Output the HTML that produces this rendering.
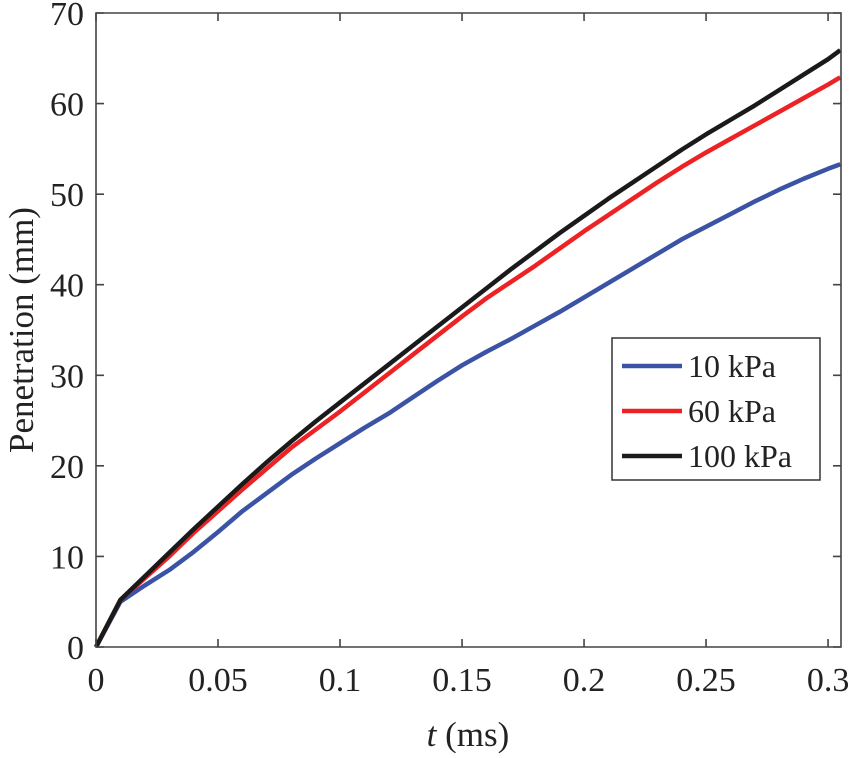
<!DOCTYPE html>
<html><head><meta charset="utf-8"><style>
html,body{margin:0;padding:0;background:#fff}
svg text{font-family:"Liberation Serif","Times New Roman",serif;fill:#222}
</style></head><body>
<svg width="850" height="753" font-family="Liberation Serif, serif" xmlns="http://www.w3.org/2000/svg">
<g id="plot"></g>
</svg>
<script>
const tVals=[0,0.01,0.02,0.03,0.04,0.05,0.06,0.07,0.08,0.09,0.1,0.11,0.12,0.13,0.14,0.15,0.16,0.17,0.18,0.19,0.2,0.21,0.22,0.23,0.24,0.25,0.26,0.27,0.28,0.29,0.3,0.305];
const s10=[0,5,6.8,8.5,10.5,12.7,15,17,19,20.8,22.5,24.2,25.8,27.6,29.4,31.1,32.6,34,35.5,37,38.6,40.2,41.8,43.4,45,46.4,47.8,49.2,50.5,51.7,52.8,53.3];
const s60=[0,5.2,7.6,10,12.6,15,17.4,19.7,22,24,26,28.1,30.2,32.3,34.4,36.5,38.5,40.3,42.1,44,45.9,47.7,49.5,51.3,53,54.6,56.1,57.6,59.1,60.6,62.1,62.9];
const s100=[0,5.2,7.8,10.4,13,15.5,18,20.4,22.7,24.9,27,29.1,31.2,33.3,35.4,37.5,39.6,41.7,43.7,45.7,47.6,49.5,51.3,53.1,54.9,56.6,58.2,59.8,61.5,63.2,64.9,65.9];
const xTicks=[0,0.05,0.1,0.15,0.2,0.25,0.3];
const xTickLabels=["0","0.05","0.1","0.15","0.2","0.25","0.3"];
const yTicks=[0,10,20,30,40,50,60,70];
const seriesNames=["10 kPa","60 kPa","100 kPa"];
const L=96,R=841,T=13,B=647,XMAX=0.3053,YMAX=70;
const X=v=>L+v/XMAX*(R-L), Y=v=>B-v/YMAX*(B-T);
const NS="http://www.w3.org/2000/svg";
const g=document.getElementById('plot');
function mk(tag,attrs,parent){const e=document.createElementNS(NS,tag);for(const k in attrs)e.setAttribute(k,attrs[k]);(parent||g).appendChild(e);return e;}
const series=[[s10,"#3a53a4","series-10kpa"],[s60,"#ed2224","series-60kpa"],[s100,"#1a1a1a","series-100kpa"]];
series.forEach(([d,c,n])=>{
  const p=mk('polyline',{points:d.map((v,i)=>X(tVals[i])+','+Y(v)).join(' '),fill:'none',stroke:c,'stroke-width':4.5,'stroke-linejoin':'round'});
  
  
});
const ax=mk('path',{d:`M${L},${T}H${R}V${B}H${L}Z`,fill:'none',stroke:'#444','stroke-width':1.6});


xTicks.forEach((v,i)=>{
  mk('path',{d:`M${X(v)},${B}v-8M${X(v)},${T}v8`,stroke:'#444','stroke-width':1.6});
  const t=mk('text',{x:X(v),y:B+44,'text-anchor':'middle','font-size':34});t.textContent=xTickLabels[i];
  
  
});
yTicks.forEach(v=>{
  mk('path',{d:`M${L},${Y(v)}h8M${R},${Y(v)}h-8`,stroke:'#444','stroke-width':1.6});
  const t=mk('text',{x:L-12,y:Y(v)+12,'text-anchor':'end','font-size':34});t.textContent=v;
  
  
});
const xl=mk('text',{x:468,y:746,'text-anchor':'middle','font-size':35});
xl.innerHTML='<tspan font-style="italic">t</tspan> (ms)';


const yl=mk('text',{x:0,y:0,'text-anchor':'middle','font-size':35,transform:'translate(33,330) rotate(-90)'});
yl.textContent='Penetration (mm)';


const lg=mk('g',{});


mk('rect',{x:612,y:338,width:208,height:142,fill:'#fff',stroke:'#333','stroke-width':1.5},lg);
series.forEach(([d,c,n],i)=>{
  const y=366+i*45;
  mk('line',{x1:622,x2:682,y1:y,y2:y,stroke:c,'stroke-width':4.5},lg);
  const t=mk('text',{x:688,y:y+11,'font-size':32},lg);t.textContent=seriesNames[i];
  
  
});
</script>
</body></html>
